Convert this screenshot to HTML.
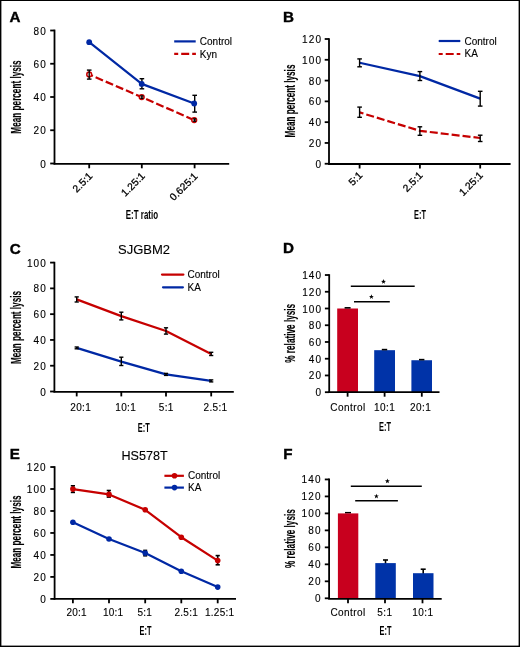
<!DOCTYPE html>
<html><head><meta charset="utf-8"><style>
html,body{margin:0;padding:0;background:#fff;}
svg{display:block;will-change:transform;font-family:"Liberation Sans",sans-serif;}
text{fill:#000;stroke:#000;stroke-width:0.12px;}
</style></head><body>
<svg width="520" height="647" viewBox="0 0 520 647">
<rect x="0" y="0" width="520" height="647" fill="#000"/>
<rect x="1.4" y="1" width="517.2" height="644.6" fill="#fff"/>
<text x="9.50" y="22.10" font-size="15.2" text-anchor="start" font-weight="bold" style="stroke-width:0.4px">A</text>
<line x1="54.50" y1="29.60" x2="54.50" y2="164.40" stroke="#000" stroke-width="1.8" />
<line x1="50.20" y1="30.50" x2="54.50" y2="30.50" stroke="#000" stroke-width="1.8" />
<text x="46.80" y="34.50" font-size="10" text-anchor="end" font-weight="normal" letter-spacing="1.1" >80</text>
<line x1="50.20" y1="63.75" x2="54.50" y2="63.75" stroke="#000" stroke-width="1.8" />
<text x="46.80" y="67.75" font-size="10" text-anchor="end" font-weight="normal" letter-spacing="1.1" >60</text>
<line x1="50.20" y1="97.00" x2="54.50" y2="97.00" stroke="#000" stroke-width="1.8" />
<text x="46.80" y="101.00" font-size="10" text-anchor="end" font-weight="normal" letter-spacing="1.1" >40</text>
<line x1="50.20" y1="130.25" x2="54.50" y2="130.25" stroke="#000" stroke-width="1.8" />
<text x="46.80" y="134.25" font-size="10" text-anchor="end" font-weight="normal" letter-spacing="1.1" >20</text>
<line x1="50.20" y1="163.50" x2="54.50" y2="163.50" stroke="#000" stroke-width="1.8" />
<text x="46.80" y="167.50" font-size="10" text-anchor="end" font-weight="normal" letter-spacing="1.1" >0</text>
<line x1="53.60" y1="163.80" x2="229.20" y2="163.80" stroke="#000" stroke-width="1.8" />
<line x1="89.20" y1="163.80" x2="89.20" y2="168.30" stroke="#000" stroke-width="1.8" />
<line x1="141.80" y1="163.80" x2="141.80" y2="168.30" stroke="#000" stroke-width="1.8" />
<line x1="194.60" y1="163.80" x2="194.60" y2="168.30" stroke="#000" stroke-width="1.8" />
<polyline points="89.20,74.50 141.70,97.10 194.20,120.10" fill="none" stroke="#c60000" stroke-width="2.2" stroke-linejoin="round" stroke-dasharray="8 3" stroke-dashoffset="4"/>
<polyline points="89.20,42.20 141.70,83.90 194.20,103.50" fill="none" stroke="#0028a4" stroke-width="2.2" stroke-linejoin="round"/>
<line x1="141.90" y1="78.70" x2="141.90" y2="88.80" stroke="#000" stroke-width="1.4" />
<line x1="139.60" y1="78.70" x2="144.20" y2="78.70" stroke="#000" stroke-width="1.4" />
<line x1="139.60" y1="88.80" x2="144.20" y2="88.80" stroke="#000" stroke-width="1.4" />
<line x1="194.70" y1="95.30" x2="194.70" y2="112.10" stroke="#000" stroke-width="1.4" />
<line x1="192.40" y1="95.30" x2="197.00" y2="95.30" stroke="#000" stroke-width="1.4" />
<line x1="192.40" y1="112.10" x2="197.00" y2="112.10" stroke="#000" stroke-width="1.4" />
<circle cx="89.20" cy="42.20" r="2.9" fill="#0028a4" stroke="none" stroke-width="0"/>
<circle cx="141.70" cy="83.90" r="2.9" fill="#0028a4" stroke="none" stroke-width="0"/>
<circle cx="194.20" cy="103.50" r="2.9" fill="#0028a4" stroke="none" stroke-width="0"/>
<circle cx="89.20" cy="74.50" r="2.4" fill="#fff" stroke="#c60000" stroke-width="1.5"/>
<circle cx="141.70" cy="97.10" r="2.4" fill="#fff" stroke="#c60000" stroke-width="1.5"/>
<circle cx="194.20" cy="120.10" r="2.4" fill="#fff" stroke="#c60000" stroke-width="1.5"/>
<line x1="89.20" y1="70.10" x2="89.20" y2="79.10" stroke="#000" stroke-width="1.4" />
<line x1="86.90" y1="70.10" x2="91.50" y2="70.10" stroke="#000" stroke-width="1.4" />
<line x1="86.90" y1="79.10" x2="91.50" y2="79.10" stroke="#000" stroke-width="1.4" />
<line x1="141.90" y1="95.90" x2="141.90" y2="98.30" stroke="#000" stroke-width="1.4" />
<line x1="140.40" y1="95.90" x2="143.40" y2="95.90" stroke="#000" stroke-width="1.4" />
<line x1="140.40" y1="98.30" x2="143.40" y2="98.30" stroke="#000" stroke-width="1.4" />
<line x1="194.60" y1="118.90" x2="194.60" y2="121.20" stroke="#000" stroke-width="1.4" />
<line x1="193.10" y1="118.90" x2="196.10" y2="118.90" stroke="#000" stroke-width="1.4" />
<line x1="193.10" y1="121.20" x2="196.10" y2="121.20" stroke="#000" stroke-width="1.4" />
<line x1="174.20" y1="41.40" x2="195.70" y2="41.40" stroke="#0028a4" stroke-width="2.2" />
<line x1="174.20" y1="53.90" x2="195.90" y2="53.90" stroke="#c60000" stroke-width="2.2" stroke-dasharray="8 3" stroke-dashoffset="4"/>
<text x="199.80" y="44.80" font-size="10" text-anchor="start" font-weight="normal" >Control</text>
<text x="199.80" y="57.50" font-size="10" text-anchor="start" font-weight="normal" >Kyn</text>
<text transform="translate(21.20,97.00) rotate(-90)" x="-36.65" y="0" font-size="14" textLength="73.3" lengthAdjust="spacingAndGlyphs" font-weight="bold" style="stroke-width:0.15px">Mean percent lysis</text>
<text x="125.80" y="218.80" font-size="13.5" textLength="32.2" lengthAdjust="spacingAndGlyphs" font-weight="bold" style="stroke-width:0px">E:T ratio</text>
<text transform="translate(93.20,176.60) rotate(-45)" x="0" y="0" font-size="10.2" text-anchor="end" letter-spacing="0.1" style="stroke-width:0.3px">2.5:1</text>
<text transform="translate(145.70,176.60) rotate(-45)" x="0" y="0" font-size="10.2" text-anchor="end" letter-spacing="0.1" style="stroke-width:0.3px">1.25:1</text>
<text transform="translate(198.40,176.80) rotate(-45)" x="0" y="0" font-size="10.2" text-anchor="end" letter-spacing="0.1" style="stroke-width:0.3px">0.625:1</text>
<text x="283.00" y="22.10" font-size="15.2" text-anchor="start" font-weight="bold" style="stroke-width:0.4px">B</text>
<line x1="329.00" y1="38.20" x2="329.00" y2="164.60" stroke="#000" stroke-width="1.8" />
<line x1="324.70" y1="39.00" x2="329.00" y2="39.00" stroke="#000" stroke-width="1.8" />
<text x="322.10" y="43.00" font-size="10" text-anchor="end" font-weight="normal" letter-spacing="1.1" >120</text>
<line x1="324.70" y1="59.79" x2="329.00" y2="59.79" stroke="#000" stroke-width="1.8" />
<text x="322.10" y="63.79" font-size="10" text-anchor="end" font-weight="normal" letter-spacing="1.1" >100</text>
<line x1="324.70" y1="80.58" x2="329.00" y2="80.58" stroke="#000" stroke-width="1.8" />
<text x="322.10" y="84.58" font-size="10" text-anchor="end" font-weight="normal" letter-spacing="1.1" >80</text>
<line x1="324.70" y1="101.37" x2="329.00" y2="101.37" stroke="#000" stroke-width="1.8" />
<text x="322.10" y="105.37" font-size="10" text-anchor="end" font-weight="normal" letter-spacing="1.1" >60</text>
<line x1="324.70" y1="122.17" x2="329.00" y2="122.17" stroke="#000" stroke-width="1.8" />
<text x="322.10" y="126.17" font-size="10" text-anchor="end" font-weight="normal" letter-spacing="1.1" >40</text>
<line x1="324.70" y1="142.96" x2="329.00" y2="142.96" stroke="#000" stroke-width="1.8" />
<text x="322.10" y="146.96" font-size="10" text-anchor="end" font-weight="normal" letter-spacing="1.1" >20</text>
<line x1="324.70" y1="163.75" x2="329.00" y2="163.75" stroke="#000" stroke-width="1.8" />
<text x="322.10" y="167.75" font-size="10" text-anchor="end" font-weight="normal" letter-spacing="1.1" >0</text>
<line x1="328.10" y1="164.00" x2="510.60" y2="164.00" stroke="#000" stroke-width="1.8" />
<line x1="359.60" y1="164.00" x2="359.60" y2="168.50" stroke="#000" stroke-width="1.8" />
<line x1="419.90" y1="164.00" x2="419.90" y2="168.50" stroke="#000" stroke-width="1.8" />
<line x1="480.20" y1="164.00" x2="480.20" y2="168.50" stroke="#000" stroke-width="1.8" />
<polyline points="359.60,112.40 419.90,130.80 480.20,138.00" fill="none" stroke="#c60000" stroke-width="2.2" stroke-linejoin="round" stroke-dasharray="8 3" stroke-dashoffset="4"/>
<polyline points="359.60,62.80 419.90,76.10 480.20,98.60" fill="none" stroke="#0028a4" stroke-width="2.2" stroke-linejoin="round"/>
<line x1="359.60" y1="58.90" x2="359.60" y2="66.80" stroke="#000" stroke-width="1.4" />
<line x1="357.30" y1="58.90" x2="361.90" y2="58.90" stroke="#000" stroke-width="1.4" />
<line x1="357.30" y1="66.80" x2="361.90" y2="66.80" stroke="#000" stroke-width="1.4" />
<line x1="419.90" y1="71.60" x2="419.90" y2="80.50" stroke="#000" stroke-width="1.4" />
<line x1="417.60" y1="71.60" x2="422.20" y2="71.60" stroke="#000" stroke-width="1.4" />
<line x1="417.60" y1="80.50" x2="422.20" y2="80.50" stroke="#000" stroke-width="1.4" />
<line x1="480.20" y1="91.30" x2="480.20" y2="106.10" stroke="#000" stroke-width="1.4" />
<line x1="477.90" y1="91.30" x2="482.50" y2="91.30" stroke="#000" stroke-width="1.4" />
<line x1="477.90" y1="106.10" x2="482.50" y2="106.10" stroke="#000" stroke-width="1.4" />
<line x1="359.60" y1="107.10" x2="359.60" y2="117.30" stroke="#000" stroke-width="1.4" />
<line x1="357.30" y1="107.10" x2="361.90" y2="107.10" stroke="#000" stroke-width="1.4" />
<line x1="357.30" y1="117.30" x2="361.90" y2="117.30" stroke="#000" stroke-width="1.4" />
<line x1="419.90" y1="126.80" x2="419.90" y2="135.30" stroke="#000" stroke-width="1.4" />
<line x1="417.60" y1="126.80" x2="422.20" y2="126.80" stroke="#000" stroke-width="1.4" />
<line x1="417.60" y1="135.30" x2="422.20" y2="135.30" stroke="#000" stroke-width="1.4" />
<line x1="480.20" y1="135.20" x2="480.20" y2="141.50" stroke="#000" stroke-width="1.4" />
<line x1="477.90" y1="135.20" x2="482.50" y2="135.20" stroke="#000" stroke-width="1.4" />
<line x1="477.90" y1="141.50" x2="482.50" y2="141.50" stroke="#000" stroke-width="1.4" />
<line x1="438.70" y1="41.00" x2="460.30" y2="41.00" stroke="#0028a4" stroke-width="2.2" />
<line x1="438.70" y1="54.00" x2="460.30" y2="54.00" stroke="#c60000" stroke-width="2.2" stroke-dasharray="8 3" stroke-dashoffset="4"/>
<text x="464.50" y="44.60" font-size="10" text-anchor="start" font-weight="normal" >Control</text>
<text x="464.50" y="57.40" font-size="10" text-anchor="start" font-weight="normal" >KA</text>
<text transform="translate(294.50,101.00) rotate(-90)" x="-36.40" y="0" font-size="14" textLength="72.8" lengthAdjust="spacingAndGlyphs" font-weight="bold" style="stroke-width:0.15px">Mean percent lysis</text>
<text x="414.05" y="219.00" font-size="13.5" textLength="11.9" lengthAdjust="spacingAndGlyphs" font-weight="bold" style="stroke-width:0px">E:T</text>
<text transform="translate(363.00,176.00) rotate(-45)" x="0" y="0" font-size="10.2" text-anchor="end" letter-spacing="0.1" style="stroke-width:0.3px">5:1</text>
<text transform="translate(423.30,176.00) rotate(-45)" x="0" y="0" font-size="10.2" text-anchor="end" letter-spacing="0.1" style="stroke-width:0.3px">2.5:1</text>
<text transform="translate(483.60,176.00) rotate(-45)" x="0" y="0" font-size="10.2" text-anchor="end" letter-spacing="0.1" style="stroke-width:0.3px">1.25:1</text>
<text x="9.80" y="253.60" font-size="15.2" text-anchor="start" font-weight="bold" style="stroke-width:0.4px">C</text>
<line x1="54.40" y1="261.80" x2="54.40" y2="392.30" stroke="#000" stroke-width="1.8" />
<line x1="50.10" y1="262.60" x2="54.40" y2="262.60" stroke="#000" stroke-width="1.8" />
<text x="46.90" y="266.60" font-size="10" text-anchor="end" font-weight="normal" letter-spacing="1.1" >100</text>
<line x1="50.10" y1="288.38" x2="54.40" y2="288.38" stroke="#000" stroke-width="1.8" />
<text x="46.90" y="292.38" font-size="10" text-anchor="end" font-weight="normal" letter-spacing="1.1" >80</text>
<line x1="50.10" y1="314.16" x2="54.40" y2="314.16" stroke="#000" stroke-width="1.8" />
<text x="46.90" y="318.16" font-size="10" text-anchor="end" font-weight="normal" letter-spacing="1.1" >60</text>
<line x1="50.10" y1="339.94" x2="54.40" y2="339.94" stroke="#000" stroke-width="1.8" />
<text x="46.90" y="343.94" font-size="10" text-anchor="end" font-weight="normal" letter-spacing="1.1" >40</text>
<line x1="50.10" y1="365.72" x2="54.40" y2="365.72" stroke="#000" stroke-width="1.8" />
<text x="46.90" y="369.72" font-size="10" text-anchor="end" font-weight="normal" letter-spacing="1.1" >20</text>
<line x1="50.10" y1="391.50" x2="54.40" y2="391.50" stroke="#000" stroke-width="1.8" />
<text x="46.90" y="395.50" font-size="10" text-anchor="end" font-weight="normal" letter-spacing="1.1" >0</text>
<line x1="53.50" y1="391.90" x2="233.80" y2="391.90" stroke="#000" stroke-width="1.8" />
<line x1="76.70" y1="391.90" x2="76.70" y2="396.40" stroke="#000" stroke-width="1.8" />
<line x1="121.30" y1="391.90" x2="121.30" y2="396.40" stroke="#000" stroke-width="1.8" />
<line x1="166.00" y1="391.90" x2="166.00" y2="396.40" stroke="#000" stroke-width="1.8" />
<line x1="211.20" y1="391.90" x2="211.20" y2="396.40" stroke="#000" stroke-width="1.8" />
<polyline points="76.70,299.40 121.30,316.10 166.00,331.00 211.20,353.90" fill="none" stroke="#c60000" stroke-width="2.2" stroke-linejoin="round"/>
<polyline points="76.70,347.90 121.30,361.60 166.00,374.40 211.20,380.90" fill="none" stroke="#0028a4" stroke-width="2.2" stroke-linejoin="round"/>
<line x1="76.70" y1="296.90" x2="76.70" y2="302.00" stroke="#000" stroke-width="1.4" />
<line x1="74.60" y1="296.90" x2="78.80" y2="296.90" stroke="#000" stroke-width="1.4" />
<line x1="74.60" y1="302.00" x2="78.80" y2="302.00" stroke="#000" stroke-width="1.4" />
<line x1="121.30" y1="312.20" x2="121.30" y2="319.90" stroke="#000" stroke-width="1.4" />
<line x1="119.20" y1="312.20" x2="123.40" y2="312.20" stroke="#000" stroke-width="1.4" />
<line x1="119.20" y1="319.90" x2="123.40" y2="319.90" stroke="#000" stroke-width="1.4" />
<line x1="166.00" y1="327.80" x2="166.00" y2="334.10" stroke="#000" stroke-width="1.4" />
<line x1="163.90" y1="327.80" x2="168.10" y2="327.80" stroke="#000" stroke-width="1.4" />
<line x1="163.90" y1="334.10" x2="168.10" y2="334.10" stroke="#000" stroke-width="1.4" />
<line x1="211.20" y1="352.30" x2="211.20" y2="355.50" stroke="#000" stroke-width="1.4" />
<line x1="209.10" y1="352.30" x2="213.30" y2="352.30" stroke="#000" stroke-width="1.4" />
<line x1="209.10" y1="355.50" x2="213.30" y2="355.50" stroke="#000" stroke-width="1.4" />
<line x1="76.70" y1="347.00" x2="76.70" y2="348.80" stroke="#000" stroke-width="1.4" />
<line x1="74.60" y1="347.00" x2="78.80" y2="347.00" stroke="#000" stroke-width="1.4" />
<line x1="74.60" y1="348.80" x2="78.80" y2="348.80" stroke="#000" stroke-width="1.4" />
<line x1="121.30" y1="357.20" x2="121.30" y2="365.50" stroke="#000" stroke-width="1.4" />
<line x1="119.20" y1="357.20" x2="123.40" y2="357.20" stroke="#000" stroke-width="1.4" />
<line x1="119.20" y1="365.50" x2="123.40" y2="365.50" stroke="#000" stroke-width="1.4" />
<line x1="166.00" y1="373.40" x2="166.00" y2="375.40" stroke="#000" stroke-width="1.4" />
<line x1="163.90" y1="373.40" x2="168.10" y2="373.40" stroke="#000" stroke-width="1.4" />
<line x1="163.90" y1="375.40" x2="168.10" y2="375.40" stroke="#000" stroke-width="1.4" />
<line x1="211.20" y1="379.90" x2="211.20" y2="381.90" stroke="#000" stroke-width="1.4" />
<line x1="209.10" y1="379.90" x2="213.30" y2="379.90" stroke="#000" stroke-width="1.4" />
<line x1="209.10" y1="381.90" x2="213.30" y2="381.90" stroke="#000" stroke-width="1.4" />
<line x1="162.00" y1="274.60" x2="183.40" y2="274.60" stroke="#c60000" stroke-width="2.2" stroke-linecap="round"/>
<line x1="163.00" y1="287.30" x2="182.90" y2="287.30" stroke="#0028a4" stroke-width="2.2" stroke-linecap="round"/>
<text x="187.50" y="277.70" font-size="10" text-anchor="start" font-weight="normal" >Control</text>
<text x="187.50" y="290.60" font-size="10" text-anchor="start" font-weight="normal" >KA</text>
<text x="118.00" y="254.10" font-size="13" text-anchor="start" font-weight="normal" >SJGBM2</text>
<text x="70.30" y="410.50" font-size="10" text-anchor="start" font-weight="normal" letter-spacing="0.35" >20:1</text>
<text x="115.30" y="410.50" font-size="10" text-anchor="start" font-weight="normal" letter-spacing="0.35" >10:1</text>
<text x="158.80" y="410.50" font-size="10" text-anchor="start" font-weight="normal" letter-spacing="0.35" >5:1</text>
<text x="203.50" y="410.50" font-size="10" text-anchor="start" font-weight="normal" letter-spacing="0.35" >2.5:1</text>
<text transform="translate(21.20,327.50) rotate(-90)" x="-36.50" y="0" font-size="14" textLength="73.0" lengthAdjust="spacingAndGlyphs" font-weight="bold" style="stroke-width:0.15px">Mean percent lysis</text>
<text x="137.85" y="431.50" font-size="13.5" textLength="11.9" lengthAdjust="spacingAndGlyphs" font-weight="bold" style="stroke-width:0px">E:T</text>
<text x="283.00" y="253.00" font-size="15.2" text-anchor="start" font-weight="bold" style="stroke-width:0.4px">D</text>
<line x1="329.20" y1="274.20" x2="329.20" y2="393.00" stroke="#000" stroke-width="1.8" />
<line x1="324.90" y1="275.02" x2="329.20" y2="275.02" stroke="#000" stroke-width="1.8" />
<text x="322.20" y="279.02" font-size="10" text-anchor="end" font-weight="normal" letter-spacing="1.1" >140</text>
<line x1="324.90" y1="291.76" x2="329.20" y2="291.76" stroke="#000" stroke-width="1.8" />
<text x="322.20" y="295.76" font-size="10" text-anchor="end" font-weight="normal" letter-spacing="1.1" >120</text>
<line x1="324.90" y1="308.50" x2="329.20" y2="308.50" stroke="#000" stroke-width="1.8" />
<text x="322.20" y="312.50" font-size="10" text-anchor="end" font-weight="normal" letter-spacing="1.1" >100</text>
<line x1="324.90" y1="325.24" x2="329.20" y2="325.24" stroke="#000" stroke-width="1.8" />
<text x="322.20" y="329.24" font-size="10" text-anchor="end" font-weight="normal" letter-spacing="1.1" >80</text>
<line x1="324.90" y1="341.98" x2="329.20" y2="341.98" stroke="#000" stroke-width="1.8" />
<text x="322.20" y="345.98" font-size="10" text-anchor="end" font-weight="normal" letter-spacing="1.1" >60</text>
<line x1="324.90" y1="358.72" x2="329.20" y2="358.72" stroke="#000" stroke-width="1.8" />
<text x="322.20" y="362.72" font-size="10" text-anchor="end" font-weight="normal" letter-spacing="1.1" >40</text>
<line x1="324.90" y1="375.46" x2="329.20" y2="375.46" stroke="#000" stroke-width="1.8" />
<text x="322.20" y="379.46" font-size="10" text-anchor="end" font-weight="normal" letter-spacing="1.1" >20</text>
<line x1="324.90" y1="392.20" x2="329.20" y2="392.20" stroke="#000" stroke-width="1.8" />
<text x="322.20" y="396.20" font-size="10" text-anchor="end" font-weight="normal" letter-spacing="1.1" >0</text>
<rect x="337.2" y="308.50" width="20.8" height="83.70" fill="#c8001e"/>
<rect x="374.2" y="350.18" width="20.8" height="42.02" fill="#0033a8"/>
<rect x="411.4" y="360.23" width="20.6" height="31.97" fill="#0033a8"/>
<line x1="344.60" y1="307.83" x2="350.60" y2="307.83" stroke="#000" stroke-width="1.6" />
<line x1="381.80" y1="349.60" x2="387.20" y2="349.60" stroke="#000" stroke-width="1.6" />
<line x1="419.00" y1="359.64" x2="424.40" y2="359.64" stroke="#000" stroke-width="1.6" />
<line x1="328.30" y1="392.20" x2="439.50" y2="392.20" stroke="#000" stroke-width="1.8" />
<line x1="347.60" y1="392.20" x2="347.60" y2="396.70" stroke="#000" stroke-width="1.8" />
<line x1="384.60" y1="392.20" x2="384.60" y2="396.70" stroke="#000" stroke-width="1.8" />
<line x1="421.80" y1="392.20" x2="421.80" y2="396.70" stroke="#000" stroke-width="1.8" />
<line x1="350.80" y1="286.20" x2="414.70" y2="286.20" stroke="#000" stroke-width="1.5" />
<line x1="354.00" y1="301.70" x2="389.80" y2="301.70" stroke="#000" stroke-width="1.5" />
<polygon points="383.50,279.10 384.12,280.85 385.97,280.90 384.50,282.02 385.03,283.80 383.50,282.75 381.97,283.80 382.50,282.02 381.03,280.90 382.88,280.85" fill="#000"/>
<polygon points="371.40,294.20 372.02,295.95 373.87,296.00 372.40,297.12 372.93,298.90 371.40,297.85 369.87,298.90 370.40,297.12 368.93,296.00 370.78,295.95" fill="#000"/>
<text x="348.00" y="410.80" font-size="10" text-anchor="middle" font-weight="normal" letter-spacing="0.45" >Control</text>
<text x="384.60" y="410.80" font-size="10" text-anchor="middle" font-weight="normal" letter-spacing="0.45" >10:1</text>
<text x="420.70" y="410.80" font-size="10" text-anchor="middle" font-weight="normal" letter-spacing="0.45" >20:1</text>
<text transform="translate(294.70,333.30) rotate(-90)" x="-29.45" y="0" font-size="14" textLength="58.9" lengthAdjust="spacingAndGlyphs" font-weight="bold" style="stroke-width:0.15px">% relative lysis</text>
<text x="379.05" y="431.00" font-size="13.5" textLength="11.9" lengthAdjust="spacingAndGlyphs" font-weight="bold" style="stroke-width:0px">E:T</text>
<text x="9.80" y="459.20" font-size="15.2" text-anchor="start" font-weight="bold" style="stroke-width:0.4px">E</text>
<line x1="54.60" y1="466.20" x2="54.60" y2="599.70" stroke="#000" stroke-width="1.8" />
<line x1="50.30" y1="467.02" x2="54.60" y2="467.02" stroke="#000" stroke-width="1.8" />
<text x="46.80" y="471.02" font-size="10" text-anchor="end" font-weight="normal" letter-spacing="1.1" >120</text>
<line x1="50.30" y1="489.00" x2="54.60" y2="489.00" stroke="#000" stroke-width="1.8" />
<text x="46.80" y="493.00" font-size="10" text-anchor="end" font-weight="normal" letter-spacing="1.1" >100</text>
<line x1="50.30" y1="510.98" x2="54.60" y2="510.98" stroke="#000" stroke-width="1.8" />
<text x="46.80" y="514.98" font-size="10" text-anchor="end" font-weight="normal" letter-spacing="1.1" >80</text>
<line x1="50.30" y1="532.96" x2="54.60" y2="532.96" stroke="#000" stroke-width="1.8" />
<text x="46.80" y="536.96" font-size="10" text-anchor="end" font-weight="normal" letter-spacing="1.1" >60</text>
<line x1="50.30" y1="554.94" x2="54.60" y2="554.94" stroke="#000" stroke-width="1.8" />
<text x="46.80" y="558.94" font-size="10" text-anchor="end" font-weight="normal" letter-spacing="1.1" >40</text>
<line x1="50.30" y1="576.92" x2="54.60" y2="576.92" stroke="#000" stroke-width="1.8" />
<text x="46.80" y="580.92" font-size="10" text-anchor="end" font-weight="normal" letter-spacing="1.1" >20</text>
<line x1="50.30" y1="598.90" x2="54.60" y2="598.90" stroke="#000" stroke-width="1.8" />
<text x="46.80" y="602.90" font-size="10" text-anchor="end" font-weight="normal" letter-spacing="1.1" >0</text>
<line x1="53.70" y1="598.80" x2="236.00" y2="598.80" stroke="#000" stroke-width="1.8" />
<line x1="72.90" y1="598.80" x2="72.90" y2="603.30" stroke="#000" stroke-width="1.8" />
<line x1="109.00" y1="598.80" x2="109.00" y2="603.30" stroke="#000" stroke-width="1.8" />
<line x1="145.20" y1="598.80" x2="145.20" y2="603.30" stroke="#000" stroke-width="1.8" />
<line x1="181.30" y1="598.80" x2="181.30" y2="603.30" stroke="#000" stroke-width="1.8" />
<line x1="217.70" y1="598.80" x2="217.70" y2="603.30" stroke="#000" stroke-width="1.8" />
<polyline points="72.90,489.10 109.00,494.40 145.20,509.80 181.30,537.20 217.70,560.60" fill="none" stroke="#c60000" stroke-width="2.2" stroke-linejoin="round"/>
<polyline points="72.90,522.20 109.00,539.00 145.20,553.10 181.30,571.20 217.70,587.10" fill="none" stroke="#0028a4" stroke-width="2.2" stroke-linejoin="round"/>
<line x1="72.90" y1="485.80" x2="72.90" y2="492.40" stroke="#000" stroke-width="1.6" />
<line x1="70.80" y1="485.80" x2="75.00" y2="485.80" stroke="#000" stroke-width="1.6" />
<line x1="70.80" y1="492.40" x2="75.00" y2="492.40" stroke="#000" stroke-width="1.6" />
<line x1="108.80" y1="490.50" x2="108.80" y2="497.10" stroke="#000" stroke-width="1.6" />
<line x1="106.70" y1="490.50" x2="110.90" y2="490.50" stroke="#000" stroke-width="1.6" />
<line x1="106.70" y1="497.10" x2="110.90" y2="497.10" stroke="#000" stroke-width="1.6" />
<line x1="217.70" y1="555.60" x2="217.70" y2="564.80" stroke="#000" stroke-width="1.6" />
<line x1="215.60" y1="555.60" x2="219.80" y2="555.60" stroke="#000" stroke-width="1.6" />
<line x1="215.60" y1="564.80" x2="219.80" y2="564.80" stroke="#000" stroke-width="1.6" />
<line x1="145.20" y1="550.40" x2="145.20" y2="555.80" stroke="#000" stroke-width="1.6" />
<line x1="143.20" y1="550.40" x2="147.20" y2="550.40" stroke="#000" stroke-width="1.6" />
<line x1="143.20" y1="555.80" x2="147.20" y2="555.80" stroke="#000" stroke-width="1.6" />
<circle cx="72.90" cy="489.10" r="2.8" fill="#c60000" stroke="none" stroke-width="0"/>
<circle cx="109.00" cy="494.40" r="2.8" fill="#c60000" stroke="none" stroke-width="0"/>
<circle cx="145.20" cy="509.80" r="2.8" fill="#c60000" stroke="none" stroke-width="0"/>
<circle cx="181.30" cy="537.20" r="2.8" fill="#c60000" stroke="none" stroke-width="0"/>
<circle cx="217.70" cy="560.60" r="2.8" fill="#c60000" stroke="none" stroke-width="0"/>
<circle cx="72.90" cy="522.20" r="2.8" fill="#0028a4" stroke="none" stroke-width="0"/>
<circle cx="109.00" cy="539.00" r="2.8" fill="#0028a4" stroke="none" stroke-width="0"/>
<circle cx="145.20" cy="553.10" r="2.8" fill="#0028a4" stroke="none" stroke-width="0"/>
<circle cx="181.30" cy="571.20" r="2.8" fill="#0028a4" stroke="none" stroke-width="0"/>
<circle cx="217.70" cy="587.10" r="2.8" fill="#0028a4" stroke="none" stroke-width="0"/>
<line x1="164.40" y1="475.80" x2="183.90" y2="475.80" stroke="#c60000" stroke-width="2.2" />
<circle cx="174.50" cy="475.80" r="2.8" fill="#c60000" stroke="none" stroke-width="0"/>
<line x1="164.40" y1="487.60" x2="183.90" y2="487.60" stroke="#0028a4" stroke-width="2.2" />
<circle cx="174.50" cy="487.60" r="2.8" fill="#0028a4" stroke="none" stroke-width="0"/>
<text x="188.00" y="479.00" font-size="10" text-anchor="start" font-weight="normal" >Control</text>
<text x="188.00" y="490.90" font-size="10" text-anchor="start" font-weight="normal" >KA</text>
<text x="121.40" y="460.20" font-size="12.6" text-anchor="start" font-weight="normal" >HS578T</text>
<text x="66.40" y="615.60" font-size="10" text-anchor="start" font-weight="normal" letter-spacing="0.25" >20:1</text>
<text x="102.90" y="615.60" font-size="10" text-anchor="start" font-weight="normal" letter-spacing="0.25" >10:1</text>
<text x="137.40" y="615.60" font-size="10" text-anchor="start" font-weight="normal" letter-spacing="0.25" >5:1</text>
<text x="174.50" y="615.60" font-size="10" text-anchor="start" font-weight="normal" letter-spacing="0.25" >2.5:1</text>
<text x="205.00" y="615.60" font-size="10" text-anchor="start" font-weight="normal" letter-spacing="0.25" >1.25:1</text>
<text transform="translate(21.20,532.00) rotate(-90)" x="-36.50" y="0" font-size="14" textLength="73.0" lengthAdjust="spacingAndGlyphs" font-weight="bold" style="stroke-width:0.15px">Mean percent lysis</text>
<text x="139.55" y="635.30" font-size="13.5" textLength="11.9" lengthAdjust="spacingAndGlyphs" font-weight="bold" style="stroke-width:0px">E:T</text>
<text x="283.20" y="459.30" font-size="15.2" text-anchor="start" font-weight="bold" style="stroke-width:0.4px">F</text>
<line x1="329.10" y1="478.60" x2="329.10" y2="599.10" stroke="#000" stroke-width="1.8" />
<line x1="324.80" y1="479.44" x2="329.10" y2="479.44" stroke="#000" stroke-width="1.8" />
<text x="321.60" y="483.44" font-size="10" text-anchor="end" font-weight="normal" letter-spacing="1.1" >140</text>
<line x1="324.80" y1="496.42" x2="329.10" y2="496.42" stroke="#000" stroke-width="1.8" />
<text x="321.60" y="500.42" font-size="10" text-anchor="end" font-weight="normal" letter-spacing="1.1" >120</text>
<line x1="324.80" y1="513.40" x2="329.10" y2="513.40" stroke="#000" stroke-width="1.8" />
<text x="321.60" y="517.40" font-size="10" text-anchor="end" font-weight="normal" letter-spacing="1.1" >100</text>
<line x1="324.80" y1="530.38" x2="329.10" y2="530.38" stroke="#000" stroke-width="1.8" />
<text x="321.60" y="534.38" font-size="10" text-anchor="end" font-weight="normal" letter-spacing="1.1" >80</text>
<line x1="324.80" y1="547.36" x2="329.10" y2="547.36" stroke="#000" stroke-width="1.8" />
<text x="321.60" y="551.36" font-size="10" text-anchor="end" font-weight="normal" letter-spacing="1.1" >60</text>
<line x1="324.80" y1="564.34" x2="329.10" y2="564.34" stroke="#000" stroke-width="1.8" />
<text x="321.60" y="568.34" font-size="10" text-anchor="end" font-weight="normal" letter-spacing="1.1" >40</text>
<line x1="324.80" y1="581.32" x2="329.10" y2="581.32" stroke="#000" stroke-width="1.8" />
<text x="321.60" y="585.32" font-size="10" text-anchor="end" font-weight="normal" letter-spacing="1.1" >20</text>
<line x1="324.80" y1="598.30" x2="329.10" y2="598.30" stroke="#000" stroke-width="1.8" />
<text x="321.60" y="602.30" font-size="10" text-anchor="end" font-weight="normal" letter-spacing="1.1" >0</text>
<line x1="385.50" y1="560.00" x2="385.50" y2="566.00" stroke="#000" stroke-width="1.6" />
<line x1="383.00" y1="560.00" x2="388.00" y2="560.00" stroke="#000" stroke-width="1.6" />
<line x1="383.00" y1="566.00" x2="388.00" y2="566.00" stroke="#000" stroke-width="1.6" />
<line x1="423.20" y1="569.20" x2="423.20" y2="577.00" stroke="#000" stroke-width="1.6" />
<line x1="420.70" y1="569.20" x2="425.70" y2="569.20" stroke="#000" stroke-width="1.6" />
<line x1="420.70" y1="577.00" x2="425.70" y2="577.00" stroke="#000" stroke-width="1.6" />
<line x1="345.00" y1="512.72" x2="351.00" y2="512.72" stroke="#000" stroke-width="1.6" />
<rect x="337.9" y="513.40" width="20.4" height="84.90" fill="#c8001e"/>
<rect x="375.3" y="563.1" width="20.5" height="35.20" fill="#0033a8"/>
<rect x="413.0" y="573.2" width="20.5" height="25.10" fill="#0033a8"/>
<line x1="328.20" y1="598.80" x2="441.70" y2="598.80" stroke="#000" stroke-width="1.8" />
<line x1="348.00" y1="598.80" x2="348.00" y2="603.30" stroke="#000" stroke-width="1.8" />
<line x1="385.00" y1="598.80" x2="385.00" y2="603.30" stroke="#000" stroke-width="1.8" />
<line x1="422.50" y1="598.80" x2="422.50" y2="603.30" stroke="#000" stroke-width="1.8" />
<line x1="350.80" y1="486.30" x2="421.80" y2="486.30" stroke="#000" stroke-width="1.5" />
<line x1="355.20" y1="500.80" x2="397.90" y2="500.80" stroke="#000" stroke-width="1.5" />
<polygon points="387.40,478.60 388.02,480.35 389.87,480.40 388.40,481.52 388.93,483.30 387.40,482.25 385.87,483.30 386.40,481.52 384.93,480.40 386.78,480.35" fill="#000"/>
<polygon points="376.40,493.70 377.02,495.45 378.87,495.50 377.40,496.62 377.93,498.40 376.40,497.35 374.87,498.40 375.40,496.62 373.93,495.50 375.78,495.45" fill="#000"/>
<text x="348.10" y="615.80" font-size="10" text-anchor="middle" font-weight="normal" letter-spacing="0.45" >Control</text>
<text x="384.80" y="615.80" font-size="10" text-anchor="middle" font-weight="normal" letter-spacing="0.45" >5:1</text>
<text x="422.90" y="615.80" font-size="10" text-anchor="middle" font-weight="normal" letter-spacing="0.45" >10:1</text>
<text transform="translate(294.70,538.60) rotate(-90)" x="-29.40" y="0" font-size="14" textLength="58.8" lengthAdjust="spacingAndGlyphs" font-weight="bold" style="stroke-width:0.15px">% relative lysis</text>
<text x="379.55" y="634.50" font-size="13.5" textLength="11.9" lengthAdjust="spacingAndGlyphs" font-weight="bold" style="stroke-width:0px">E:T</text>
</svg>
</body></html>
